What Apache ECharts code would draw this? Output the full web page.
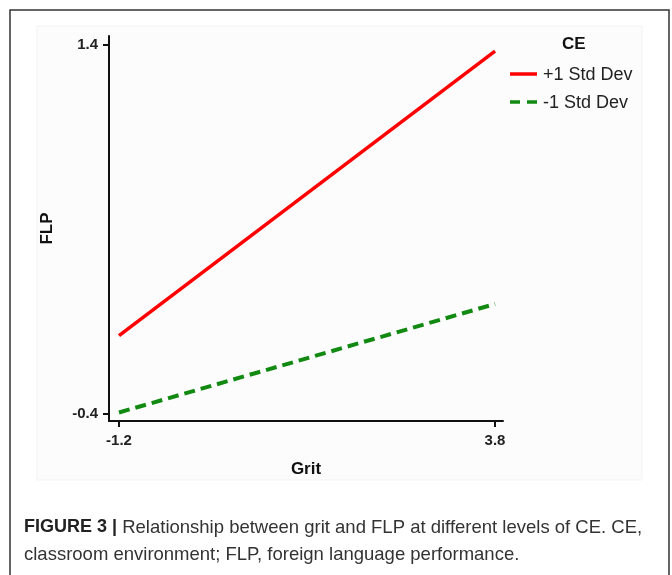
<!DOCTYPE html>
<html>
<head>
<meta charset="utf-8">
<script src="https://cdn.jsdelivr.net/npm/echarts@6/dist/echarts.min.js"></script>
<style>html,body{margin:0;padding:0;background:#fff}#c{width:672px;height:575px}</style>
</head>
<body>
<div id="c"></div>
<script>
var gritX = [-1.2, 3.8];
var plusOneSD = [-0.02, 1.37];
var minusOneSD = [-0.395, 0.135];
var xTicks = [-1.2, 3.8];
var yTicks = [-0.4, 1.4];
var seriesNames = ['+1 Std Dev', '-1 Std Dev'];
var legendTitle = 'CE';

function pairs(xs, ys) { return xs.map(function (x, i) { return [x, ys[i]]; }); }

var RED = '#ff0000', GREEN = '#128a12';
var FONT = '"Liberation Sans", Arial, sans-serif';
var chart = echarts.init(document.getElementById('c'));
chart.setOption({
  animation: false,
  grid: { left: 109, right: 169, top: 36, bottom: 154, containLabel: false },
  xAxis: {
    type: 'value', min: -1.333, max: 3.906,
    name: 'Grit', nameLocation: 'middle', nameGap: 40,
    nameTextStyle: { fontFamily: FONT, fontWeight: 'bold', fontSize: 17, color: '#111' },
    splitLine: { show: false },
    axisLine: { show: true, onZero: false, lineStyle: { color: '#111', width: 2 } },
    axisTick: { show: true, length: 6, customValues: xTicks, lineStyle: { color: '#111', width: 2 } },
    axisLabel: { customValues: xTicks, margin: 12, fontFamily: FONT, fontWeight: 'bold', fontSize: 15, color: '#222',
      formatter: function (v) { return v.toFixed(1); } }
  },
  yAxis: {
    type: 'value', min: -0.4366, max: 1.444,
    name: 'FLP', nameLocation: 'middle', nameGap: 53, nameRotate: 90,
    nameTextStyle: { fontFamily: FONT, fontWeight: 'bold', fontSize: 17, color: '#111' },
    splitLine: { show: false },
    axisLine: { show: true, onZero: false, lineStyle: { color: '#111', width: 2 } },
    axisTick: { show: true, length: 6, customValues: yTicks, lineStyle: { color: '#111', width: 2 } },
    axisLabel: { customValues: yTicks, margin: 11, fontFamily: FONT, fontWeight: 'bold', fontSize: 15, color: '#222',
      formatter: function (v) { return v.toFixed(1); } }
  },
  graphic: [
    { type: 'rect', z: -10, shape: { x: 37, y: 26, width: 605, height: 454 },
      style: { fill: '#fcfcfc', stroke: '#f3f3f3', lineWidth: 1 }, silent: true },
    { type: 'rect', z: -5, shape: { x: 10, y: 10, width: 659, height: 600 },
      style: { fill: 'none', stroke: '#333', lineWidth: 1.5 }, silent: true },
    { type: 'text', left: 562, top: 36, style: { text: legendTitle, fontFamily: FONT, fontWeight: 'bold', fontSize: 17, fill: '#111' } },
    { type: 'line', shape: { x1: 510, y1: 74, x2: 537, y2: 74 }, style: { stroke: RED, lineWidth: 3.5 } },
    { type: 'text', x: 543, y: 75, style: { text: seriesNames[0], fontFamily: FONT, fontSize: 18, fill: '#222', verticalAlign: 'middle' } },
    { type: 'line', shape: { x1: 510, y1: 102, x2: 537, y2: 102 }, style: { stroke: GREEN, lineWidth: 3.5, lineDash: [10, 7] } },
    { type: 'text', x: 543, y: 103, style: { text: seriesNames[1], fontFamily: FONT, fontSize: 18, fill: '#222', verticalAlign: 'middle' } },
    { type: 'text', left: 24, top: 514, style: {
        text: '{b|FIGURE 3 |} Relationship between grit and FLP at different levels of CE. CE,\nclassroom environment; FLP, foreign language performance.',
        fontFamily: FONT, fontSize: 18.5, fill: '#333', lineHeight: 27,
        rich: { b: { fontFamily: FONT, fontWeight: 'bold', fontSize: 18, fill: '#222', lineHeight: 27 } }
      } }
  ],
  series: [
    { name: seriesNames[0], type: 'line', data: pairs(gritX, plusOneSD), symbol: 'none',
      lineStyle: { color: RED, width: 3.5 }, itemStyle: { color: RED } },
    { name: seriesNames[1], type: 'line', data: pairs(gritX, minusOneSD), symbol: 'none',
      lineStyle: { color: GREEN, width: 4, type: [11, 6] }, itemStyle: { color: GREEN } }
  ]
});
</script>
</body>
</html>
